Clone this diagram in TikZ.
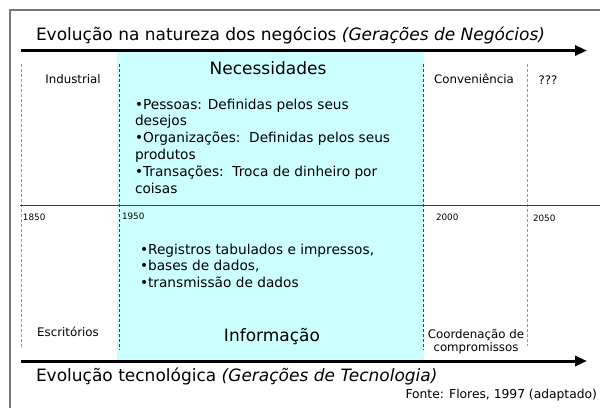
\documentclass[tikz,border=0pt]{standalone}
\usepackage{fontspec}
\setmainfont{DejaVu Sans}
\usetikzlibrary{arrows.meta}
\definecolor{cyanfill}{RGB}{204,255,255}
\definecolor{tealdash}{RGB}{40,80,100}
\definecolor{graydash}{RGB}{150,150,150}
\definecolor{framegray}{RGB}{120,120,120}
\tikzset{
  lbl/.style={inner sep=0pt, outer sep=0pt},
  bigtxt/.style={lbl, font=\fontsize{17}{20}\selectfont},
  midtxt/.style={lbl, font=\fontsize{13.7}{15.5}\selectfont},
  smalltxt/.style={lbl, font=\fontsize{11.8}{14}\selectfont},
  yeartxt/.style={lbl, font=\fontsize{8.8}{10}\selectfont},
  timearrow/.style={line width=3pt, -{Triangle[length=12pt,width=10pt]}},
  graydashed/.style={draw=graydash, line width=0.8pt, dash pattern=on 3pt off 2pt},
  tealdashed/.style={draw=tealdash, line width=0.8pt, dash pattern=on 3pt off 2pt},
}
\begin{document}
\begin{tikzpicture}[x=1pt,y=-1pt]
\useasboundingbox (0,0) rectangle (600,408);
% frame
\draw[framegray, line width=1.8pt] (10,408) -- (10,10) -- (601,10);
% cyan region
\fill[cyanfill] (117,52) rectangle (424,360);
% dashed separators
\coordinate (g1a) at (21,64);  \coordinate (g1b) at (21,348);
\coordinate (g2a) at (527,64); \coordinate (g2b) at (527,346);
\coordinate (c1a) at (119,64); \coordinate (c1b) at (119,350);
\coordinate (c2a) at (423,64); \coordinate (c2b) at (423,350);
\draw[graydashed] (g1a) -- (g1b);
\draw[graydashed] (g2a) -- (g2b);
\draw[tealdashed] (c1a) -- (c1b);
\draw[tealdashed] (c2a) -- (c2b);
% middle line
\coordinate (m1) at (20,205.5); \coordinate (m2) at (601,205.5);
\draw[black!75, line width=1.2pt] (m1) -- (m2);
% arrows
\coordinate (ta1) at (21,50.5); \coordinate (ta2) at (587,50.5);
\coordinate (ba1) at (21,361);  \coordinate (ba2) at (587,361);
\draw[timearrow] (ta1) -- (ta2);
\draw[timearrow] (ba1) -- (ba2);
% titles
\node[bigtxt, anchor=base west] (toptitle) at (36,40) {Evolução na natureza dos negócios \textit{(Gerações de Negócios)}};
\node[bigtxt, anchor=base west] (bottitle) at (36,381) {Evolução tecnológica \textit{(Gerações de Tecnologia)}};
\node[lbl, font=\fontsize{12.3}{15}\selectfont, anchor=base east] (fonte) at (597,398) {Fonte: Flores, 1997 (adaptado)};
% top labels
\node[smalltxt, anchor=base] (industrial) at (73,83) {Industrial};
\node[bigtxt, anchor=base] (necess) at (268,74) {Necessidades};
\node[smalltxt, anchor=base] (conv) at (474,83) {Conveniência};
\node[smalltxt, anchor=base] (qqq) at (548,84) {???};
% bullets 1
\node[midtxt, anchor=base west] (p1) at (135,109) {•Pessoas: Definidas pelos seus};
\node[midtxt, anchor=base west] (p2) at (135,125.8) {desejos};
\node[midtxt, anchor=base west] (p3) at (135,142.6) {•Organizações:\ \ Definidas pelos seus};
\node[midtxt, anchor=base west] (p4) at (135,159.4) {produtos};
\node[midtxt, anchor=base west] (p5) at (135,176.2) {•Transações:\ \ Troca de dinheiro por};
\node[midtxt, anchor=base west] (p6) at (135,193) {coisas};
% years
\node[yeartxt, anchor=base west] (y1850) at (23,220) {1850};
\node[yeartxt, anchor=base west] (y1950) at (122,219) {1950};
\node[yeartxt, anchor=base west] (y2000) at (436,220) {2000};
\node[yeartxt, anchor=base west] (y2050) at (533,221) {2050};
% bullets 2
\node[midtxt, anchor=base west] (r1) at (140,254) {•Registros tabulados e impressos,};
\node[midtxt, anchor=base west] (r2) at (140,270.8) {•bases de dados,};
\node[midtxt, anchor=base west] (r3) at (140,287.6) {•transmissão de dados};
% bottom labels
\node[smalltxt, anchor=base] (escr) at (68,336) {Escritórios};
\node[bigtxt, anchor=base] (info) at (272,341) {Informação};
\node[smalltxt, anchor=base] (coord1) at (476,338) {Coordenação de};
\node[smalltxt, anchor=base] (coord2) at (476,351) {compromissos};
\end{tikzpicture}
\end{document}
